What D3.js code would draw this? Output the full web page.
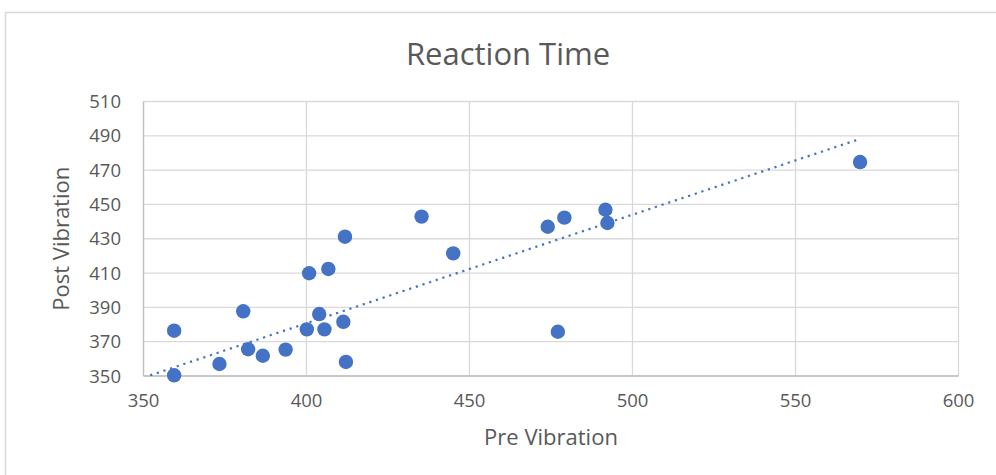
<!DOCTYPE html>
<html>
<head>
<meta charset="utf-8">
<script src="https://cdn.jsdelivr.net/npm/d3@7"></script>
<style>
  body { margin: 0; background: #fff; }
  svg { display: block; }
  text { font-family: "Open Sans", sans-serif; fill: #595959; }
</style>
</head>
<body>
<svg width="996" height="475"></svg>
<script>
// pre / post vibration reaction times
const preVibration  = [359.4, 359.4, 373.3, 380.6, 382.1, 386.6, 393.6, 400.1, 400.8, 403.9, 405.5, 406.7,
                       411.3, 411.8, 412.1, 435.3, 445.0, 474.0, 477.1, 479.1, 491.7, 492.3, 569.8];
const postVibration = [376.4, 350.4, 357.0, 387.7, 365.6, 361.8, 365.4, 377.2, 409.9, 386.1, 377.2, 412.4,
                       381.6, 431.2, 358.2, 442.9, 421.5, 437.0, 375.8, 442.3, 446.9, 439.2, 474.7];
// linear trendline end points
const trendX = [350, 569.8];
const trendY = [349.1, 488.2];
const xTicks = [350, 400, 450, 500, 550, 600];
const yTicks = [350, 370, 390, 410, 430, 450, 470, 490, 510];

const svg = d3.select("svg");
const margin = { left: 143.5, top: 101.5, right: 958.5, bottom: 376 };

const x = d3.scaleLinear().domain([350, 600]).range([margin.left, margin.right]);
const y = d3.scaleLinear().domain([350, 510]).range([margin.bottom, margin.top]);

// chart frame (runs off the right / bottom of the picture)
svg.append("rect")
    .attr("x", 5.5).attr("y", 12.5)
    .attr("width", 1100).attr("height", 600)
    .attr("fill", "none")
    .attr("stroke", "#d9d9d9")
    .attr("stroke-width", 1.5);

// gridlines
svg.append("g")
    .selectAll("line")
    .data(yTicks)
    .join("line")
    .attr("x1", margin.left).attr("x2", margin.right)
    .attr("y1", d => y(d)).attr("y2", d => y(d))
    .attr("stroke", "#d9d9d9").attr("stroke-width", 1.3);

svg.append("g")
    .selectAll("line")
    .data(xTicks)
    .join("line")
    .attr("x1", d => x(d)).attr("x2", d => x(d))
    .attr("y1", margin.top).attr("y2", margin.bottom)
    .attr("stroke", "#d9d9d9").attr("stroke-width", 1.3);

// axis lines
svg.append("line")
    .attr("x1", margin.left).attr("x2", margin.left)
    .attr("y1", margin.top).attr("y2", margin.bottom)
    .attr("stroke", "#bfbfbf").attr("stroke-width", 1.3);
svg.append("line")
    .attr("x1", margin.left).attr("x2", margin.right)
    .attr("y1", margin.bottom).attr("y2", margin.bottom)
    .attr("stroke", "#bfbfbf").attr("stroke-width", 1.3);

// tick labels
svg.append("g")
    .selectAll("text")
    .data(xTicks)
    .join("text")
    .attr("x", d => x(d))
    .attr("y", 407)
    .attr("text-anchor", "middle")
    .attr("font-size", 18.5)
    .text(d => d);

svg.append("g")
    .selectAll("text")
    .data(yTicks)
    .join("text")
    .attr("x", 121)
    .attr("y", d => y(d) + 6.5)
    .attr("text-anchor", "end")
    .attr("font-size", 18.5)
    .text(d => d);

// dotted trendline, clipped to the plot area
svg.append("clipPath").attr("id", "plot")
    .append("rect")
    .attr("x", margin.left).attr("y", margin.top)
    .attr("width", margin.right - margin.left)
    .attr("height", margin.bottom - margin.top);

svg.append("line")
    .attr("clip-path", "url(#plot)")
    .attr("x1", x(trendX[0])).attr("y1", y(trendY[0]))
    .attr("x2", x(trendX[1])).attr("y2", y(trendY[1]))
    .attr("stroke", "#4472c4")
    .attr("stroke-width", 2.2)
    .attr("stroke-dasharray", "2.2,4.8");

// points
svg.append("g")
    .selectAll("circle")
    .data(preVibration)
    .join("circle")
    .attr("cx", d => x(d))
    .attr("cy", (d, i) => y(postVibration[i]))
    .attr("r", 7.2)
    .attr("fill", "#4472c4");

// titles
svg.append("text")
    .attr("x", 508).attr("y", 65)
    .attr("text-anchor", "middle")
    .attr("font-size", 31)
    .text("Reaction Time");

svg.append("text")
    .attr("x", x(475)).attr("y", 445)
    .attr("text-anchor", "middle")
    .attr("font-size", 22)
    .text("Pre Vibration");

svg.append("text")
    .attr("transform", `translate(69,${(margin.top + margin.bottom) / 2}) rotate(-90)`)
    .attr("text-anchor", "middle")
    .attr("font-size", 22)
    .text("Post Vibration");
</script>
</body>
</html>
